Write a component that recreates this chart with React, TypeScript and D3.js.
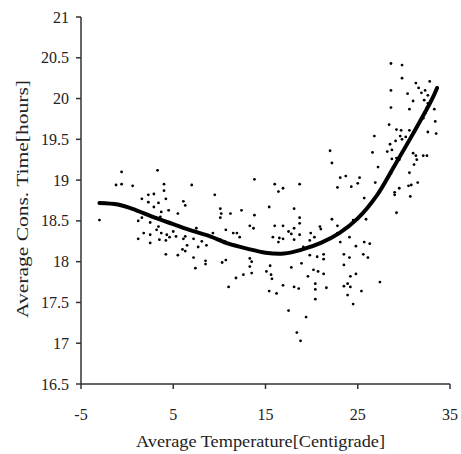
import React from "react";
import * as d3 from "d3";

const xTickValues = [-5, 5, 15, 25, 35];
const yTickValues = [16.5, 17, 17.5, 18, 18.5, 19, 19.5, 20, 20.5, 21];

const curveTemp = [-3, -1, 1, 3, 5, 7, 9, 11, 13, 15, 17, 19, 21, 23, 25, 27, 29, 31, 33, 33.6];
const curveCons = [18.72, 18.7, 18.63, 18.54, 18.46, 18.38, 18.31, 18.22, 18.16, 18.11, 18.1, 18.15, 18.23, 18.35, 18.53, 18.8, 19.18, 19.57, 19.98, 20.13];

const scatterTemp = [
  -0.6, 3.3, -1.2, -0.6, 0.6, 4.0, 4.0, 2.3, 2.9, 1.6, 4.2, 2.3, 3.4, 2.9, 3.7, 4.5, -3.0, 1.2, 1.6, 2.5,
  3.6, 5.5, 3.4, 3.2, 1.8, 2.5, 3.7, 4.3, 4.6, 1.2, 2.5, 3.5, 4.2, 5.0, 5.3, 4.2, 5.5, 7.0, 13.8, 9.5,
  6.1, 6.3, 10.1, 10.2, 10.1, 11.2, 12.4, 13.8, 13.3, 13.7, 7.5, 10.7, 11.5, 11.9, 12.2, 9.3, 6.3, 6.1, 7.2, 8.1,
  8.6, 10.1, 10.6, 6.5, 7.7, 6.0, 6.3, 7.2, 8.5, 8.5, 10.3, 10.7, 13.3, 13.5, 7.4, 13.3, 13.5, 12.6, 11.8, 11.0,
  16.0, 16.4, 16.9, 18.7, 15.4, 18.1, 18.7, 18.7, 16.0, 16.9, 17.5, 18.1, 17.8, 15.8, 16.5, 16.9, 16.4, 18.1, 18.7, 19.9,
  20.3, 19.8, 20.9, 21.0, 19.1, 21.3, 21.3, 19.8, 20.6, 15.5, 18.9, 17.8, 15.1, 15.6, 15.7, 20.2, 20.7, 21.3, 19.6, 20.4,
  16.9, 18.1, 18.6, 20.4, 21.6, 15.4, 16.2, 20.4, 17.5, 19.4, 18.4, 18.8,
  26.8, 22.0, 26.6, 22.2, 27.2, 23.1, 23.7, 25.2, 25.0, 26.9, 22.8, 24.3, 25.7, 22.2, 24.5, 25.9, 22.8, 22.8, 24.1, 23.1,
  25.7, 26.3, 24.8, 23.5, 24.1, 25.6, 26.1, 23.5, 24.8, 24.2, 27.4, 23.5, 23.9, 24.2, 25.4, 23.9, 24.5,
  28.6, 29.8, 29.8, 31.3, 32.8, 31.6, 32.3, 31.9, 30.4, 28.6, 32.6, 31.0, 32.2, 32.6, 32.5, 30.6, 28.6, 33.3, 32.3, 32.1,
  33.4, 28.4, 29.2, 29.7, 30.6, 32.6, 33.5, 29.6, 30.2, 29.1, 29.8, 28.5, 28.7, 28.2, 31.0, 31.3, 32.1, 32.5, 31.4, 28.7,
  29.2, 29.5, 31.1, 30.6, 28.6, 30.8, 31.5, 30.5, 29.5, 29.0, 29.0, 30.7, 29.2
];
const scatterCons = [
  19.10, 19.12, 18.94, 18.95, 18.93, 18.95, 18.87, 18.82, 18.83, 18.77, 18.77, 18.73, 18.72, 18.67, 18.61, 18.63, 18.51, 18.50, 18.54, 18.48,
  18.55, 18.59, 18.43, 18.39, 18.35, 18.33, 18.35, 18.33, 18.30, 18.28, 18.23, 18.27, 18.26, 18.37, 18.31, 18.09, 18.08, 18.94, 19.01, 18.82,
  18.74, 18.69, 18.65, 18.59, 18.54, 18.59, 18.63, 18.57, 18.44, 18.41, 18.41, 18.39, 18.35, 18.35, 18.30, 18.35, 18.31, 18.28, 18.28, 18.25,
  18.20, 18.27, 18.25, 18.20, 18.18, 18.15, 18.13, 18.05, 18.01, 17.97, 17.99, 18.02, 18.04, 18.00, 17.92, 17.94, 17.86, 17.84, 17.80, 17.69,
  18.95, 18.86, 18.90, 18.95, 18.67, 18.65, 18.54, 18.47, 18.44, 18.44, 18.37, 18.41, 18.34, 18.30, 18.29, 18.28, 18.24, 18.27, 18.33, 18.35,
  18.30, 18.26, 18.43, 18.40, 18.18, 18.09, 18.03, 18.08, 18.06, 17.95, 17.98, 17.93, 17.88, 17.84, 17.79, 17.90, 17.88, 17.85, 17.82, 17.73,
  17.71, 17.69, 17.67, 17.66, 17.68, 17.64, 17.61, 17.54, 17.40, 17.32, 17.13, 17.03,
  19.54, 19.36, 19.34, 19.21, 19.16, 19.03, 19.05, 19.03, 18.96, 18.97, 18.91, 18.92, 18.78, 18.52, 18.51, 18.52, 18.44, 18.35, 18.30, 18.24,
  18.24, 18.22, 18.19, 18.09, 18.05, 18.09, 18.05, 17.96, 17.85, 17.82, 17.75, 17.70, 17.73, 17.69, 17.64, 17.59, 17.48,
  20.43, 20.41, 20.25, 20.19, 20.21, 20.13, 20.10, 20.07, 20.06, 20.10, 20.04, 19.97, 19.98, 19.94, 19.89, 19.87, 19.89, 19.87, 19.82, 19.76,
  19.72, 19.68, 19.62, 19.61, 19.61, 19.59, 19.57, 19.54, 19.53, 19.48, 19.50, 19.44, 19.37, 19.35, 19.33, 19.30, 19.30, 19.30, 19.25, 19.26,
  19.27, 19.25, 19.19, 19.09, 19.08, 18.94, 18.97, 18.93, 18.90, 18.85, 18.82, 18.80, 18.60
];

const xTitle = "Average Temperature[Centigrade]";
const yTitle = "Average Cons. Time[hours]";

const W = 461;
const H = 454;
const FONT = "'Liberation Serif', 'Times New Roman', serif";

export default function App() {
  const x = d3.scaleLinear().domain([-5, 35]).range([81, 450]);
  const y = d3.scaleLinear().domain([16.5, 21]).range([384, 17]);

  const curvePts: [number, number][] = curveTemp.map((t, i) => [t, curveCons[i]]);
  const line = d3
    .line<[number, number]>()
    .x((d) => x(d[0]))
    .y((d) => y(d[1]))
    .curve(d3.curveCatmullRom.alpha(0.5));

  const axisColor = "#333";
  const textColor = "#222";

  return (
    <div style={{ position: "absolute", left: 0, top: 0 }}>
      <svg width={W} height={H} style={{ display: "block", background: "#fff" }}>
        {/* scatter */}
        {scatterTemp.map((t, i) => (
          <circle key={i} cx={x(t)} cy={y(scatterCons[i])} r={1.4} fill="#000" />
        ))}
        {/* fitted curve */}
        <path d={line(curvePts) || ""} fill="none" stroke="#000" strokeWidth={4} strokeLinecap="round" />

        {/* axes */}
        <line x1={x(-5)} x2={x(-5)} y1={y(21)} y2={y(16.5)} stroke={axisColor} strokeWidth={1.5} />
        <line x1={x(-5)} x2={x(35)} y1={y(16.5)} y2={y(16.5)} stroke={axisColor} strokeWidth={1.5} />
        {yTickValues.map((v) => (
          <g key={"y" + v}>
            <line x1={x(-5) - 5} x2={x(-5)} y1={y(v)} y2={y(v)} stroke={axisColor} strokeWidth={1.5} />
            <text
              x={69}
              y={y(v)}
              dy="0.35em"
              textAnchor="end"
              fontFamily={FONT}
              fontSize={16}
              fill={textColor}
            >
              {String(v)}
            </text>
          </g>
        ))}
        {xTickValues.map((v) => (
          <g key={"x" + v}>
            <line x1={x(v)} x2={x(v)} y1={y(16.5)} y2={y(16.5) + 5} stroke={axisColor} strokeWidth={1.5} />
            <text
              x={x(v)}
              y={420}
              textAnchor="middle"
              fontFamily={FONT}
              fontSize={16}
              fill={textColor}
            >
              {String(v)}
            </text>
          </g>
        ))}

        {/* titles */}
        <text
          x={260.5}
          y={447}
          textAnchor="middle"
          fontFamily={FONT}
          fontSize={17}
          fill={textColor}
          textLength={249}
          lengthAdjust="spacingAndGlyphs"
        >
          {xTitle}
        </text>
        <text
          transform="translate(28,199) rotate(-90)"
          textAnchor="middle"
          fontFamily={FONT}
          fontSize={17}
          fill={textColor}
          textLength={238}
          lengthAdjust="spacingAndGlyphs"
        >
          {yTitle}
        </text>
      </svg>
    </div>
  );
}
